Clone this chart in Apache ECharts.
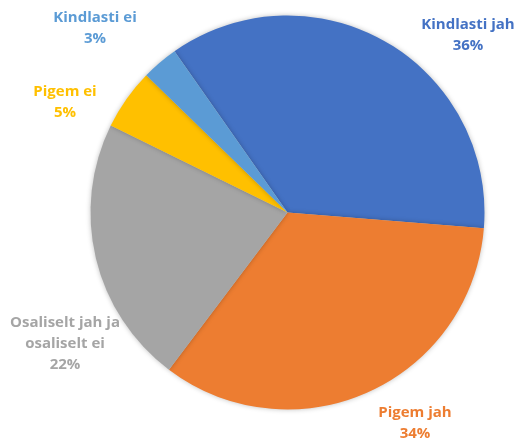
<!DOCTYPE html>
<html>
<head>
<meta charset="utf-8">
<script src="https://cdn.jsdelivr.net/npm/echarts@6/dist/echarts.min.js"></script>
<style>html,body{margin:0;padding:0;background:#fff;}#c{width:519px;height:445px;}</style>
</head>
<body>
<div id="c"></div>
<script>
const categories = ['Kindlasti jah', 'Pigem jah', 'Osaliselt jah ja\nosaliselt ei', 'Pigem ei', 'Kindlasti ei'];
const values = [36, 34, 22, 5, 3];
const colors = ['#4472C4', '#ED7D31', '#A5A5A5', '#FFC000', '#5B9BD5'];
const labelPos = [[468, 35], [415, 423], [65, 344], [65, 102], [95, 28]];

const chart = echarts.init(document.getElementById('c'));
chart.setOption({
  animation: false,
  series: [{
    type: 'pie',
    center: [287.5, 212.5],
    radius: 197,
    startAngle: 125,
    clockwise: true,
    data: categories.map((n, i) => ({
      name: n, value: values[i],
      itemStyle: { color: colors[i] },
      label: { color: colors[i] }
    })),
    itemStyle: { shadowBlur: 5, shadowColor: 'rgba(0,0,0,0.25)' },
    label: {
      show: true,
      position: 'outside',
      formatter: p => p.name + '\n' + p.value + '%',
      fontFamily: 'Open Sans',
      fontWeight: 'bold',
      fontSize: 15,
      lineHeight: 21,
      align: 'center',
      overflow: 'none',
      width: 200
    },
    labelLine: { show: false },
    labelLayout: p => ({
      x: labelPos[p.dataIndex][0],
      y: labelPos[p.dataIndex][1],
      align: 'center',
      verticalAlign: 'middle'
    })
  }]
});
</script>
</body>
</html>
